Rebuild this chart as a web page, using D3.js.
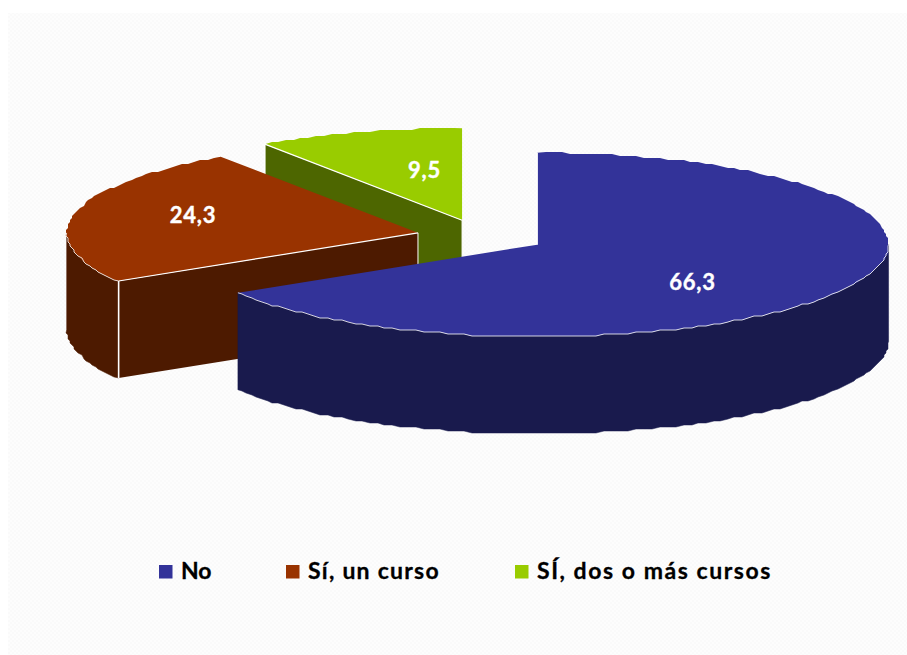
<!DOCTYPE html>
<html><head><meta charset="utf-8">
<script src="https://cdn.jsdelivr.net/npm/d3@7"></script>
<style>html,body{margin:0;padding:0;background:#fff}svg{display:block}</style>
</head><body><svg id="c" width="907" height="655"></svg>
<script>
const categories = ["No", "Sí, un curso", "SÍ, dos o más cursos"];
const values = [66.3, 24.3, 9.5];
const valueLabels = ["66,3", "24,3", "9,5"];
const topColors = ["#333399", "#993300", "#99cc00"];
const sideColors = ["#191a4d", "#4d1a00", "#4d6600"];
const legendX = [159, 286, 515];
const legendSpacing = [0, 1.25, 1.55];
const labelX = [692.5, 193, 424.5];
const labelY = [290, 223, 178];

const W=907,H=655, cx=481, cy=236.4, rx=351.3, ry=92, depth=97, explode=0.1835;
const svg=d3.select("#c");
const defs=svg.append("defs");
const pat=defs.append("pattern").attr("id","bg").attr("width",4).attr("height",4).attr("patternUnits","userSpaceOnUse");
pat.append("rect").attr("width",4).attr("height",4).attr("fill","#fdfdfd");
pat.append("rect").attr("width",2).attr("height",2).attr("fill","#fafafa");
pat.append("rect").attr("x",2).attr("y",2).attr("width",2).attr("height",2).attr("fill","#fafafa");
svg.append("rect").attr("x",8).attr("y",13).attr("width",899).attr("height",642).attr("fill","url(#bg)");

const arcs=d3.pie().sort(null).value(d=>d).startAngle(0).endAngle(2*Math.PI)(values);
const px=d3.scaleLinear().domain([-1,1]).range([-rx,rx]);
const py=d3.scaleLinear().domain([-1,1]).range([-ry,ry]);
const grid=2;
// rim outline has a slight faceted look in the source
const rim=(c,a0,a1)=>{const n=Math.max(2,Math.round(Math.abs(a1-a0)*42));
  return d3.range(n+1).map(i=>{const a=a0+(a1-a0)*i/n;
    let x=c[0]+px(Math.sin(a)),y=c[1]-py(Math.cos(a));
    if(i>0&&i<n){y=Math.round(y/grid)*grid;x=Math.round(x/grid)*grid;}
    return [x,y];});};
const line=d3.line();
const centre=d=>{const m=(d.startAngle+d.endAngle)/2;return [cx+explode*px(Math.sin(m)),cy-explode*py(Math.cos(m))];};
const down=p=>[p[0],p[1]+depth];
const g=svg.append("g");
// back to front: green, red, blue
[2,1,0].forEach(i=>{
  const d=arcs[i],c=centre(d),a0=d.startAngle,a1=d.endAngle;
  const side=sideColors[i],top=topColors[i];
  const pt=a=>[c[0]+px(Math.sin(a)),c[1]-py(Math.cos(a))];
  const w0=Math.max(a0,Math.PI/2),w1=Math.min(a1,3*Math.PI/2);
  if(w1>w0){const r=rim(c,w0,w1);
    g.append("path").attr("d",line(r.concat(r.slice().reverse().map(down)))+"Z").attr("fill",side).attr("stroke",side).attr("stroke-width",.5);}
  if(a0>Math.PI){const p=pt(a0);
    g.append("path").attr("d",line([c,p,down(p),down(c)])+"Z").attr("fill",side);
    g.append("path").attr("d",line([p,down(p)])).attr("stroke","#fff").attr("stroke-width",1.6).attr("fill","none");
    g.append("path").attr("d",line([c,down(c)])).attr("stroke","#fff").attr("stroke-width",1).attr("fill","none");
  }
  const r=rim(c,a0,a1);
  g.append("path").attr("d",line([c].concat(r))+"Z").attr("fill",top).attr("stroke","none");
  g.append("path").attr("d",line([c,pt(a0)])).attr("stroke","#fff").attr("stroke-width",1.2).attr("fill","none");
  if(w1>w0) g.append("path").attr("d",line(rim(c,w0,w1))).attr("stroke","#fff").attr("stroke-width",1).attr("fill","none").attr("opacity",.8);
});
// value labels
arcs.forEach((d,i)=>{
  svg.append("text").attr("x",labelX[i]).attr("y",labelY[i])
   .attr("text-anchor","middle").attr("font-family","Lato").attr("font-weight",700).attr("font-size",22)
   .attr("letter-spacing",0.8).attr("fill","#fff").attr("stroke","#fff").attr("stroke-width",.4).text(valueLabels[i]);
});
// legend
categories.forEach((t,i)=>{
  svg.append("rect").attr("x",legendX[i]).attr("y",565).attr("width",13.5).attr("height",13.5).attr("fill",topColors[i]);
  svg.append("text").attr("x",legendX[i]+22).attr("y",579).attr("font-family","Lato").attr("font-weight",700)
   .attr("font-size",23).attr("letter-spacing",legendSpacing[i]).attr("fill","#000").attr("stroke","#000").attr("stroke-width",.3).text(t);
});
</script></body></html>
